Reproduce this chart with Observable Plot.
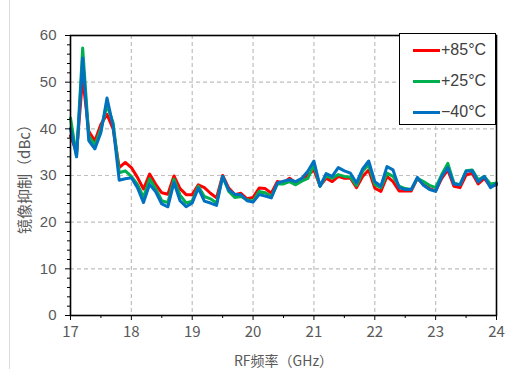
<!DOCTYPE html>
<html>
<head>
<meta charset="utf-8">
<script src="https://cdn.jsdelivr.net/npm/d3@7"></script>
<script src="https://cdn.jsdelivr.net/npm/@observablehq/plot@0.6"></script>
<style>
  html, body { margin: 0; padding: 0; background: #fff; }
  #wrap { position: relative; width: 513px; height: 369px; overflow: hidden; background: #fff; }
  #edge { position: absolute; left: 9px; top: 0; width: 1px; height: 369px; background: #dcdcdc; }
  #legend {
    position: absolute; left: 399px; top: 33px; width: 95px; height: 90px;
    border: 1.5px solid #000; background: #fff;
    font-family: "Liberation Sans", Arial, sans-serif; font-size: 16px; color: #404040;
  }
  .row { position: absolute; left: 13px; height: 20px; display: flex; align-items: center; }
  .swatch { width: 27px; height: 3px; margin-right: 1px; }
</style>
</head>
<body>
<div id="wrap"><div id="edge"></div></div>
<script>
// RF frequency sweep (GHz)
const freqs = [
  17.0, 17.1, 17.2, 17.3, 17.4, 17.5, 17.6, 17.7, 17.8, 17.9,
  18.0, 18.1, 18.2, 18.3, 18.4, 18.5, 18.6, 18.7, 18.8, 18.9,
  19.0, 19.1, 19.2, 19.3, 19.4, 19.5, 19.6, 19.7, 19.8, 19.9,
  20.0, 20.1, 20.2, 20.3, 20.4, 20.5, 20.6, 20.7, 20.8, 20.9,
  21.0, 21.1, 21.2, 21.3, 21.4, 21.5, 21.6, 21.7, 21.8, 21.9,
  22.0, 22.1, 22.2, 22.3, 22.4, 22.5, 22.6, 22.7, 22.8, 22.9,
  23.0, 23.1, 23.2, 23.3, 23.4, 23.5, 23.6, 23.7, 23.8, 23.9,
  24.0
];

// Image rejection (dBc) at each temperature
const rej85 = [
  38.5, 35.0, 51.0, 39.5, 37.4, 41.0, 43.1, 40.0, 31.7, 32.8,
  31.7, 29.6, 27.1, 30.3, 28.1, 26.3, 26.0, 29.9, 27.2, 25.9,
  25.9, 28.0, 27.4, 26.2, 25.2, 30.0, 27.3, 25.9, 26.2, 25.0,
  25.3, 27.3, 27.2, 26.2, 28.7, 28.4, 29.4, 28.4, 29.1, 30.1,
  31.2, 27.8, 29.4, 28.7, 29.8, 29.4, 29.4, 27.4, 29.8, 31.2,
  27.3, 26.6, 29.8, 28.7, 26.7, 26.7, 26.7, 29.4, 28.0, 27.2,
  26.7, 29.4, 31.2, 27.7, 27.4, 30.1, 30.5, 28.2, 29.4, 27.7,
  28.0
];
const rej25 = [
  42.3, 34.2, 57.3, 38.5, 36.5, 40.0, 45.0, 41.3, 30.6, 31.0,
  29.8, 28.1, 25.3, 29.3, 27.2, 24.6, 24.2, 29.2, 25.8, 24.1,
  24.5, 27.7, 25.5, 25.0, 24.1, 29.8, 26.6, 25.3, 25.5, 24.8,
  24.5, 26.6, 26.3, 25.5, 28.2, 28.2, 28.7, 28.0, 28.8, 29.4,
  32.3, 27.7, 29.9, 29.4, 30.2, 29.8, 29.7, 27.8, 30.9, 32.3,
  28.1, 27.4, 30.5, 29.8, 27.7, 27.2, 27.0, 29.4, 28.7, 27.9,
  27.4, 30.2, 32.6, 28.4, 28.0, 31.0, 31.2, 29.1, 29.8, 28.2,
  28.4
];
const rejM40 = [
  40.1, 34.0, 55.2, 37.5, 35.7, 39.2, 46.6, 40.6, 29.0, 29.3,
  29.5, 27.4, 24.2, 28.1, 26.5, 23.9, 23.3, 28.5, 24.6, 23.3,
  24.1, 27.3, 24.5, 24.1, 23.6, 29.8, 26.9, 26.0, 25.9, 24.6,
  24.3, 25.9, 25.6, 25.2, 28.4, 28.8, 29.1, 28.7, 29.4, 30.9,
  33.1, 27.7, 30.4, 29.8, 31.7, 31.0, 30.5, 28.4, 31.4, 33.1,
  28.7, 27.7, 31.9, 31.2, 27.4, 27.0, 27.0, 29.6, 27.9, 27.0,
  26.6, 29.8, 31.7, 28.2, 28.0, 30.9, 31.0, 28.6, 29.8, 27.4,
  28.2
];

const seriesNames = ["+85°C", "+25°C", "\u221240°C"];
const seriesColors = ["#ff0000", "#00b050", "#0070c0"];

const xTicks = [17, 18, 19, 20, 21, 22, 23, 24];
const xMinor = [17.5, 18.5, 19.5, 20.5, 21.5, 22.5, 23.5];
const yTicks = [0, 10, 20, 30, 40, 50, 60];
const yMinor = [2, 4, 6, 8, 12, 14, 16, 18, 22, 24, 26, 28, 32, 34, 36, 38, 42, 44, 46, 48, 52, 54, 56, 58];

const xTitle = "RF频率（GHz）";
const yTitle = "镜像抑制（dBc）";

// Long-format table: one row per (series, frequency)
const rows = [];
[rej85, rej25, rejM40].forEach((vals, i) => {
  vals.forEach((v, j) => rows.push({series: seriesNames[i], freq: freqs[j], value: v}));
});

const cjk = "'Noto Sans CJK SC', 'Noto Sans', sans-serif";
const latin = "'Liberation Sans', Arial, sans-serif";
const grid = {stroke: "#bfbfbf", strokeWidth: 1.2, strokeDasharray: "4,3"};

const chart = Plot.plot({
  width: 513,
  height: 369,
  marginLeft: 70,
  marginRight: 17,
  marginTop: 35,
  marginBottom: 54,
  style: {background: "#fff", color: "#595959", fontSize: "14px", fontFamily: latin, overflow: "visible"},
  x: {domain: [17, 24]},
  y: {domain: [0, 60]},
  color: {domain: seriesNames, range: seriesColors},
  marks: [
    Plot.ruleX(xTicks.slice(1, -1), grid),
    Plot.ruleY(yTicks.slice(1, -1), grid),
    Plot.line(rows, {x: "freq", y: "value", z: "series", stroke: "series", strokeWidth: 3, strokeLinejoin: "round"}),
    Plot.frame({stroke: "#000", strokeWidth: 1.6}),
    Plot.axisX({ticks: xTicks, tickFormat: "d", tickSize: 5, tickPadding: 6, stroke: "#000", fill: "#595959",
      fontFamily: cjk, fontSize: 15,
      label: xTitle, labelAnchor: "center", labelOffset: 50, labelArrow: "none"}),
    Plot.axisX({ticks: xMinor, tickSize: 3, stroke: "#000", text: null, label: null}),
    Plot.axisY({ticks: yTicks, tickFormat: "d", tickSize: 5, tickPadding: 9, stroke: "#000", fill: "#595959",
      fontFamily: latin, fontSize: 15,
      label: yTitle, labelAnchor: "center", labelOffset: 51, labelArrow: "none"}),
    Plot.axisY({ticks: yMinor, tickSize: 3, stroke: "#000", text: null, label: null})
  ]
});

// Axis titles use the CJK face
d3.select(chart).selectAll("g[aria-label='x-axis label'] text")
  .style("font-family", cjk).style("font-size", "14px");
d3.select(chart).selectAll("g[aria-label='y-axis label'] text")
  .style("font-family", cjk).style("font-size", "15px");

document.getElementById("wrap").appendChild(chart);

// Legend box in the upper-right corner of the plot
const legend = document.createElement("div");
legend.id = "legend";
seriesNames.forEach((name, i) => {
  const row = document.createElement("div");
  row.className = "row";
  row.style.top = (6 + i * 31) + "px";
  const sw = document.createElement("span");
  sw.className = "swatch";
  sw.style.background = seriesColors[i];
  const label = document.createElement("span");
  label.textContent = name;
  row.appendChild(sw);
  row.appendChild(label);
  legend.appendChild(row);
});
document.getElementById("wrap").appendChild(legend);
</script>
</body>
</html>
